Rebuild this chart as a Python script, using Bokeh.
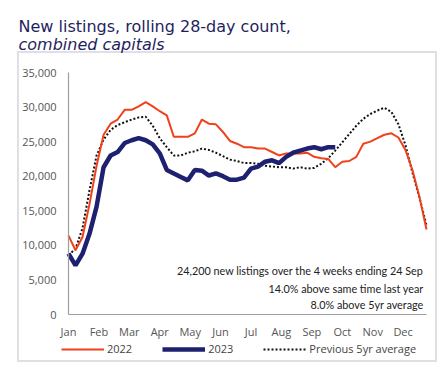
import numpy as np
from bokeh.plotting import figure
from bokeh.models import (Range1d, FixedTicker, NumeralTickFormatter, Label,
                          Legend, LegendItem)
from bokeh.embed import file_html
from bokeh.resources import INLINE

# ---------------- data ----------------
months = ["Jan", "Feb", "Mar", "Apr", "May", "Jun",
          "Jul", "Aug", "Sep", "Oct", "Nov", "Dec"]

listings_2022 = [11400, 9300, 11200, 16000, 21500, 26000, 27600, 28200, 29600, 29600,
                 30100, 30700, 30100, 29400, 28800, 25700, 25700, 25700, 26200, 28200,
                 27600, 27500, 26400, 25100, 24700, 24200, 24200, 24000, 24000, 23500,
                 23000, 23300, 23300, 23300, 23400, 22800, 22600, 22500, 21300, 22100,
                 22200, 22800, 24700, 25000, 25500, 26000, 26200, 25600, 23800, 20900,
                 17000, 12300]

listings_2023 = [8800, 7100, 8800, 11700, 15600, 21300, 23000, 23500, 24800, 25200,
                 25500, 25200, 24600, 23300, 20900, 20400, 19900, 19400, 20900, 20800,
                 20100, 20400, 20000, 19500, 19500, 19800, 21100, 21400, 22100, 22300,
                 21900, 22800, 23400, 23700, 24000, 24200, 23900, 24200, 24200]

avg_5yr = [8600, 9500, 12500, 18000, 23000, 25300, 26700, 27400, 27800, 28200,
           28500, 28600, 27300, 25500, 24200, 23000, 23000, 23400, 23600, 24000,
           23800, 23400, 22900, 22400, 22200, 21900, 21900, 21800, 21500, 21400,
           21300, 21300, 21100, 21300, 21100, 21200, 21800, 22600, 23700, 24900,
           26100, 27300, 28300, 29000, 29500, 29900, 29300, 27500, 24500, 20500,
           16900, 12900]

y_ticks = [0, 5000, 10000, 15000, 20000, 25000, 30000, 35000]

title_line1 = "New listings, rolling 28-day count,"
title_line2 = "combined capitals"
notes = ["24,200 new listings over the 4 weeks ending 24 Sep",
         "14.0% above same time last year",
         "8.0% above 5yr average"]
series_names = ["2022", "2023", "Previous 5yr average"]

# ---------------- geometry ----------------
W, H = 448, 373
WEEKS_PER_MONTH = 52 / 12
x22 = np.arange(len(listings_2022)) / WEEKS_PER_MONTH
x23 = np.arange(len(listings_2023)) / WEEKS_PER_MONTH
x5 = np.arange(len(avg_5yr)) / WEEKS_PER_MONTH
x_end = x22[-1]
y_top_val = y_ticks[-1]

# plot area (in page pixels) for the data region
PX_L, PX_R, PX_T, PX_B = 68, 426, 72, 314
sx = (PX_R - PX_L) / x_end          # px per x unit
sy = (PX_B - PX_T) / y_top_val      # px per y unit
x_start = -PX_L / sx
x_stop = x_end + (W - PX_R) / sx
y_stop = y_top_val + PX_T / sy
y_start = -(H - PX_B) / sy


def X(px):
    return x_start + px / sx


def Y(py):
    return y_stop - py / sy


RED = "#f0401c"
NAVY = "#1e2170"
TITLE_C = "#1f1f5e"
TICK_C = "#555555"
FONT = "Open Sans"
BOX = "#dfdfe4"

# light grey frame box around the chart area (drawn as page background)
box_css = ", ".join([
    f"linear-gradient({BOX},{BOX}) 17px 51px / 420px 2px no-repeat",
    f"linear-gradient({BOX},{BOX}) 17px 360px / 420px 2px no-repeat",
    f"linear-gradient({BOX},{BOX}) 17px 51px / 2px 311px no-repeat",
    f"linear-gradient({BOX},{BOX}) 435px 51px / 2px 311px no-repeat",
    "white",
])

p = figure(width=W, height=H, output_backend="svg", toolbar_location=None,
           title=None, min_border=0,
           x_range=Range1d(x_start, x_stop), y_range=Range1d(y_start, y_stop))
p.styles = {"background": box_css}
p.outline_line_color = None
p.xgrid.visible = False
p.ygrid.visible = False
p.background_fill_color = None
p.border_fill_color = None

p.yaxis.ticker = FixedTicker(ticks=y_ticks)
p.yaxis.formatter = NumeralTickFormatter(format="0,0")
p.xaxis.ticker = FixedTicker(ticks=list(range(len(months))))
p.xaxis.major_label_overrides = {i: m for i, m in enumerate(months)}
p.xaxis.fixed_location = 0
p.yaxis.fixed_location = 0
p.xaxis.bounds = (0, x_end)
p.yaxis.bounds = (0, y_top_val)
for ax in (p.xaxis, p.yaxis):
    ax.major_tick_line_color = None
    ax.minor_tick_line_color = None
    ax.major_tick_out = 0
    ax.major_tick_in = 0
    ax.minor_tick_out = 0
    ax.axis_line_color = "#9e9e9e"
    ax.axis_line_width = 1.2
    ax.major_label_text_font = FONT
    ax.major_label_text_font_size = "11px"
    ax.major_label_text_color = TICK_C
p.yaxis.major_label_standoff = 12
p.xaxis.major_label_standoff = 9

r5 = p.line(x5, avg_5yr, line_color="#111111", line_width=2, line_dash="2 2")
r22 = p.line(x22, listings_2022, line_color=RED, line_width=2)
r23 = p.line(x23, listings_2023, line_color=NAVY, line_width=4.5)

# notes inside the plot
note_y = [6300, 3700, 1450]
for txt, yy in zip(notes, note_y):
    p.add_layout(Label(x=11.67, y=yy, text=txt, text_align="right",
                       text_baseline="middle", text_font="Lato",
                       text_font_size="10.8px", text_color="#222222"))

# title
p.add_layout(Label(x=X(18), y=Y(26), text=title_line1, text_baseline="alphabetic",
                   text_font="DejaVu Sans", text_font_size="16px", text_color=TITLE_C))
p.add_layout(Label(x=X(18), y=Y(44), text=title_line2, text_baseline="alphabetic",
                   text_font="DejaVu Sans", text_font_size="16px", text_color=TITLE_C,
                   text_font_style="italic"))

legend = Legend(items=[LegendItem(label=series_names[0], renderers=[r22]),
                       LegendItem(label=series_names[1], renderers=[r23]),
                       LegendItem(label=series_names[2], renderers=[r5])],
                orientation="horizontal", location=(61, H - 356),
                glyph_width=43, glyph_height=14, label_height=14,
                label_standoff=3, spacing=30, padding=0, margin=0,
                border_line_color=None, background_fill_alpha=0,
                label_text_font=FONT, label_text_font_size="11px",
                label_text_color="#444444")
p.add_layout(legend)

open("out.html", "w").write(file_html(p, INLINE))
